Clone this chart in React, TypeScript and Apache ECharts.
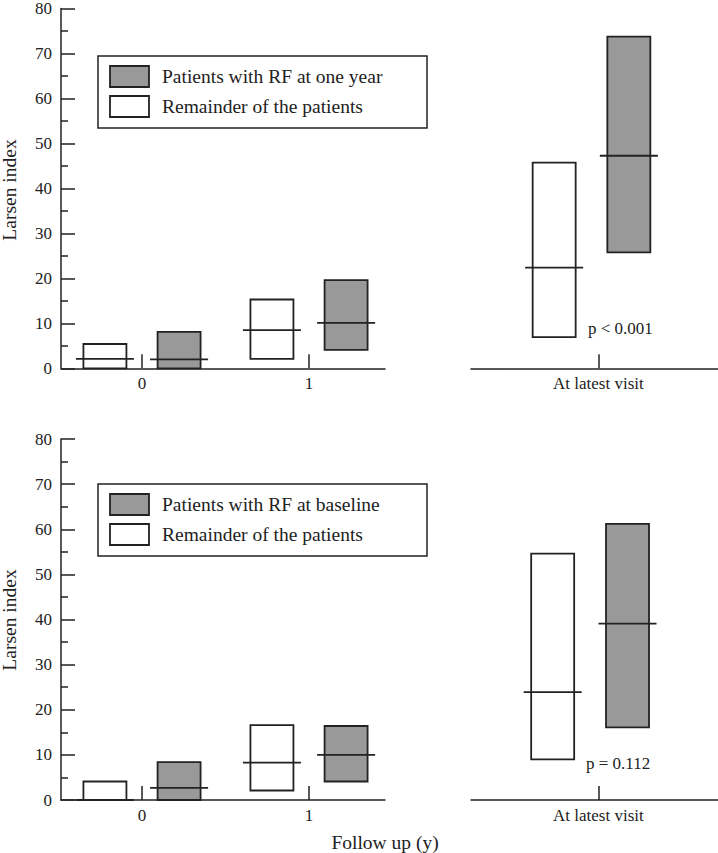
import React, { useEffect, useRef } from "react";
import * as echarts from "echarts";

// ---- Data (Larsen index: low, high, median) ----
const followUpCategories = [0, 1];
const latestCategory = [0];
const latestLabel = "At latest visit";

// Top panel: RF at one year
const topRemainderLow = [0, 2.1];
const topRemainderHigh = [5.4, 15.3];
const topRemainderMedian = [2.1, 8.5];
const topRfLow = [0, 4.1];
const topRfHigh = [8.1, 19.6];
const topRfMedian = [2.0, 10.1];
const topLatestRemainder = [6.9, 45.6, 22.3];
const topLatestRf = [25.7, 73.5, 47.1];

// Bottom panel: RF at baseline
const botRemainderLow = [0, 2.1];
const botRemainderHigh = [4.1, 16.6];
const botRemainderMedian = [0, 8.3];
const botRfLow = [0, 4.1];
const botRfHigh = [8.4, 16.4];
const botRfMedian = [2.7, 10.0];
const botLatestRemainder = [9.0, 54.6, 23.9];
const botLatestRf = [16.1, 61.2, 39.1];

const yTicks = [0, 80];
const topLegend = ["Patients with RF at one year", "Remainder of the patients"];
const botLegend = ["Patients with RF at baseline", "Remainder of the patients"];
const topP = "p < 0.001";
const botP = "p = 0.112";
const yTitle = "Larsen index";
const xTitle = "Follow up (y)";

const FONT = '"Liberation Serif", "Times New Roman", serif';
const INK = "#222";
const GRAY = "#999999";
const LW = 1.8;

function buildItems(cats: number[], low: number[], high: number[], med: number[]) {
  return cats.map((c, i) => [c, low[i], high[i], med[i]]);
}

function boxSeries(data: number[][], gridIdx: number, offset: number, fill: string) {
  return {
    type: "custom",
    xAxisIndex: gridIdx,
    yAxisIndex: gridIdx,
    data,
    renderItem: (_p: any, api: any) => {
      const x = api.value(0) + offset;
      const pLow = api.coord([x, api.value(1)]);
      const pHigh = api.coord([x, api.value(2)]);
      const pMed = api.coord([x, api.value(3)]);
      return {
        type: "group",
        children: [
          {
            type: "rect",
            shape: { x: pLow[0] - 21.5, y: pHigh[1], width: 43, height: pLow[1] - pHigh[1] },
            style: { fill, stroke: INK, lineWidth: LW },
          },
          {
            type: "line",
            shape: { x1: pMed[0] - 29, y1: pMed[1], x2: pMed[0] + 29, y2: pMed[1] },
            style: { stroke: INK, lineWidth: LW },
          },
        ],
      };
    },
  };
}

function legendGraphic(top: number, texts: string[]) {
  return [
    {
      type: "rect",
      shape: { x: 98, y: top, width: 329, height: 72 },
      style: { fill: "#fff", stroke: INK, lineWidth: 1.5 },
      z: 10,
    },
    {
      type: "rect",
      shape: { x: 110, y: top + 10, width: 39, height: 21 },
      style: { fill: GRAY, stroke: INK, lineWidth: LW },
      z: 11,
    },
    {
      type: "rect",
      shape: { x: 110, y: top + 40, width: 39, height: 21 },
      style: { fill: "#fff", stroke: INK, lineWidth: LW },
      z: 11,
    },
    {
      type: "text",
      x: 162,
      y: top + 20.5,
      style: { text: texts[0], font: `19.5px ${FONT}`, fill: INK, verticalAlign: "middle", align: "left" },
      z: 11,
    },
    {
      type: "text",
      x: 162,
      y: top + 50.5,
      style: { text: texts[1], font: `19.5px ${FONT}`, fill: INK, verticalAlign: "middle", align: "left" },
      z: 11,
    },
  ];
}

export default function App() {
  const ref = useRef<HTMLDivElement>(null);
  useEffect(() => {
    if (!ref.current) return;
    const chart = echarts.init(ref.current, undefined, { renderer: "svg" });
    const grids = [
      { left: 61, top: 7.3, width: 324, height: 361 },
      { left: 471, top: 7.3, width: 247, height: 361 },
      { left: 61, top: 439, width: 324, height: 361 },
      { left: 471, top: 439, width: 247, height: 361 },
    ];
    const leftX = (gi: number) => ({
      type: "value",
      gridIndex: gi,
      min: -0.485,
      max: 1.455,
      axisLine: { show: true, onZero: false, lineStyle: { color: INK, width: 1.5 } },
      axisTick: { show: true, inside: true, length: 14, customValues: followUpCategories, lineStyle: { color: INK, width: 1.5 } },
      axisLabel: { show: true, customValues: followUpCategories, fontSize: 17, fontFamily: FONT, color: INK, margin: 7 },
      splitLine: { show: false },
    });
    const rightX = (gi: number) => ({
      type: "value",
      gridIndex: gi,
      min: -0.766,
      max: 0.719,
      axisLine: { show: true, onZero: false, lineStyle: { color: INK, width: 1.5 } },
      axisTick: { show: true, inside: true, length: 14, customValues: latestCategory, lineStyle: { color: INK, width: 1.5 } },
      axisLabel: {
        show: true,
        customValues: latestCategory,
        formatter: () => latestLabel,
        fontSize: 17,
        fontFamily: FONT,
        color: INK,
        margin: 7,
      },
      splitLine: { show: false },
    });
    const leftY = (gi: number) => ({
      type: "value",
      gridIndex: gi,
      min: yTicks[0],
      max: yTicks[1],
      interval: 10,
      axisLine: { show: true, onZero: false, lineStyle: { color: INK, width: 1.5 } },
      axisTick: { show: true, inside: true, length: 14, lineStyle: { color: INK, width: 1.5 } },
      minorTick: { show: true, splitNumber: 2, length: 7, lineStyle: { color: INK, width: 1.5 } },
      axisLabel: { fontSize: 17, fontFamily: FONT, color: INK, margin: 9 },
      splitLine: { show: false },
      minorSplitLine: { show: false },
    });
    const rightY = (gi: number) => ({
      type: "value",
      gridIndex: gi,
      min: yTicks[0],
      max: yTicks[1],
      show: false,
      splitLine: { show: false },
    });

    const option: any = {
      animation: false,
      backgroundColor: "#fff",
      grid: grids,
      xAxis: [leftX(0), rightX(1), leftX(2), rightX(3)],
      yAxis: [leftY(0), rightY(1), leftY(2), rightY(3)],
      series: [
        boxSeries(buildItems(followUpCategories, topRemainderLow, topRemainderHigh, topRemainderMedian), 0, -0.222, "#fff"),
        boxSeries(buildItems(followUpCategories, topRfLow, topRfHigh, topRfMedian), 0, 0.222, GRAY),
        boxSeries([[0, topLatestRemainder[0], topLatestRemainder[1], topLatestRemainder[2]]], 1, -0.266, "#fff"),
        boxSeries([[0, topLatestRf[0], topLatestRf[1], topLatestRf[2]]], 1, 0.183, GRAY),
        boxSeries(buildItems(followUpCategories, botRemainderLow, botRemainderHigh, botRemainderMedian), 2, -0.222, "#fff"),
        boxSeries(buildItems(followUpCategories, botRfLow, botRfHigh, botRfMedian), 2, 0.222, GRAY),
        boxSeries([[0, botLatestRemainder[0], botLatestRemainder[1], botLatestRemainder[2]]], 3, -0.275, "#fff"),
        boxSeries([[0, botLatestRf[0], botLatestRf[1], botLatestRf[2]]], 3, 0.175, GRAY),
      ],
      graphic: [
        ...legendGraphic(56, topLegend),
        ...legendGraphic(484, botLegend),
        {
          type: "text",
          x: 9,
          y: 190,
          rotation: Math.PI / 2,
          style: { text: yTitle, font: `19.5px ${FONT}`, fill: INK, align: "center", verticalAlign: "middle" },
        },
        {
          type: "text",
          x: 9,
          y: 620,
          rotation: Math.PI / 2,
          style: { text: yTitle, font: `19.5px ${FONT}`, fill: INK, align: "center", verticalAlign: "middle" },
        },
        {
          type: "text",
          x: 385,
          y: 842,
          style: { text: xTitle, font: `19.5px ${FONT}`, fill: INK, align: "center", verticalAlign: "middle" },
        },
        {
          type: "text",
          x: 588,
          y: 328,
          style: { text: topP, font: `17px ${FONT}`, fill: INK, align: "left", verticalAlign: "middle" },
        },
        {
          type: "text",
          x: 586,
          y: 763,
          style: { text: botP, font: `17px ${FONT}`, fill: INK, align: "left", verticalAlign: "middle" },
        },
      ],
    };
    chart.setOption(option);
    return () => chart.dispose();
  }, []);
  return (
    <div
      ref={ref}
      style={{ position: "absolute", left: 0, top: 0, width: 718, height: 853, background: "#fff" }}
    />
  );
}
